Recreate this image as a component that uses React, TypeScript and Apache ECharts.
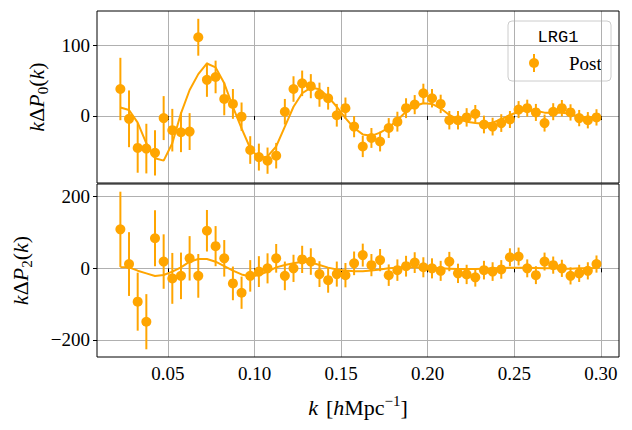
import React, { useEffect, useRef } from "react";
import * as echarts from "echarts";

const kValues = [
  0.0225, 0.0275, 0.0325, 0.0375, 0.0425, 0.0475, 0.0525, 0.0575, 0.0625, 0.0675,
  0.0725, 0.0775, 0.0825, 0.0875, 0.0925, 0.0975, 0.1025, 0.1075, 0.1125, 0.1175,
  0.1225, 0.1275, 0.1325, 0.1375, 0.1425, 0.1475, 0.1525, 0.1575, 0.1625, 0.1675,
  0.1725, 0.1775, 0.1825, 0.1875, 0.1925, 0.1975, 0.2025, 0.2075, 0.2125, 0.2175,
  0.2225, 0.2275, 0.2325, 0.2375, 0.2425, 0.2475, 0.2525, 0.2575, 0.2625, 0.2675,
  0.2725, 0.2775, 0.2825, 0.2875, 0.2925, 0.2975,
];

const p0Data = [
  38, -4, -45, -46, -52, -3, -20, -23, -22, 111,
  51, 55, 24, 17, -1, -48, -58, -63, -56, 6,
  38, 46, 42, 30, 25, 1, 11, -15, -43, -31,
  -36, -17, -8, 11, 16, 32, 25, 17, -6, -6,
  -2, 3, -12, -15, -10, -5, 9, 11, 5, -10,
  6, 11, 5, -3, -6, -2,
];

const p0Err = [
  44, 40, 35, 35, 32, 31, 30, 28, 26, 26,
  24, 23, 23, 21, 20, 19.5, 19, 18.5, 18, 18,
  18, 18, 17, 17, 16, 16, 15, 15, 15, 14,
  14, 14, 14, 14, 13.5, 13.5, 13, 13, 13, 13,
  13, 12.5, 12.5, 12.5, 12.5, 12, 12, 12, 12, 12,
  12, 11.5, 11.5, 11.5, 11.5, 11.5,
];

const p0Model = [
  12, 8.5, -9.4, -38.5, -59.6, -63, -38.5, 3.8, 36.6, 59,
  74, 68.5, 46, 13, -17.4, -45.5, -59.6, -57, -43, -15,
  13, 32, 40, 37.6, 27, 13, -3, -17, -26, -28,
  -23.5, -16.4, -5.6, 6, 14, 18, 17, 10.8, 1.4, -4.7,
  -8, -10, -11, -9.4, -4.7, 1.4, 6, 8.5, 7.5, 4.7,
  4.7, 4.7, 3, -1, -2, -1,
];

const p2Data = [
  109, 12, -93, -149, 84, 19, -28, -21, 28, -21,
  105, 62, 28, -42, -68, -21, -9, 0, 28, -21,
  0, 25, 19, -16, -33, -16, -19, 14, 37, 9,
  23, -19, -5, 6, 16, 3, 0, -7, 19, -14,
  -17, -25, -5, -9, -3, 31, 33, 0, -19, 19,
  9, 0, -21, -14, -7, 12,
];

const p2Err = [
  105, 89, 81, 77, 78, 76, 71, 65, 62, 61,
  58, 56, 51, 47, 45, 44, 43, 42, 40, 40,
  38, 38, 37, 36, 35, 35, 34, 33, 32, 31,
  31, 30, 30, 29, 29, 28, 28, 28, 27, 27,
  27, 26, 26, 26, 26, 25, 25, 25, 25, 25,
  24, 24, 24, 24, 24, 24,
];

const p2Model = [
  2.8, 2.8, -6.5, -14, -21.5, -18.7, -9.3, 2.8, 18.6, 26,
  26, 18.6, 6.5, -6.5, -17, -23, -18.7, -9.3, 2.8, 9.3,
  14, 18.6, 16.7, 9.3, 2, -3, -6, -8, -8, -6,
  -3, 0, 2, 3, 3, 2, 1, 0, -1, -2,
  -2, -2, -1, 0, 1, 2, 2, 2, 1, 0,
  0, -1, -1, 0, 0, 1,
];

const xTicks = [0.05, 0.1, 0.15, 0.2, 0.25, 0.3];
const y0Ticks = [0, 100];
const y2Ticks = [-200, 0, 200];

const ORANGE = "#FFA500";
const SERIF = "Liberation Serif";
const GRID_COLOR = "#b0b0b0";

const fmtNum = (v: number) => (v < 0 ? "\u2212" + Math.abs(v) : String(v));

const mathRich = (size: number) => ({
  i: { fontFamily: SERIF, fontStyle: "italic", fontSize: size, lineHeight: 28, color: "#000" },
  n: { fontFamily: SERIF, fontSize: size, lineHeight: 28, color: "#000" },
  s: { fontFamily: SERIF, fontSize: Math.round(size * 0.7), lineHeight: 14, verticalAlign: "bottom", color: "#000" },
  sup: { fontFamily: SERIF, fontSize: Math.round(size * 0.7), lineHeight: 14, verticalAlign: "top", color: "#000" },
  sp: { fontFamily: SERIF, fontSize: size, lineHeight: 28, width: 8 },
});

function errorBarSeries(xi: number, data: number[], err: number[]) {
  return {
    type: "custom",
    xAxisIndex: xi,
    yAxisIndex: xi,
    z: 3,
    data: kValues.map((k, i) => [k, data[i] - err[i], data[i] + err[i]]),
    encode: { x: 0, y: [1, 2] },
    renderItem: (_p: any, api: any) => {
      const lo = api.coord([api.value(0), api.value(1)]);
      const hi = api.coord([api.value(0), api.value(2)]);
      return {
        type: "line",
        shape: { x1: lo[0], y1: lo[1], x2: hi[0], y2: hi[1] },
        style: { stroke: ORANGE, lineWidth: 2 },
      };
    },
  };
}

function xAxisDef(gi: number, showLabels: boolean) {
  return {
    type: "value",
    gridIndex: gi,
    min: 0.009,
    max: 0.3105,
    axisLine: { show: false },
    axisTick: { show: true, customValues: xTicks, length: 4, lineStyle: { color: "#000", width: 1 } },
    axisLabel: {
      show: showLabels,
      customValues: xTicks,
      formatter: (v: number) => v.toFixed(2),
      fontFamily: SERIF,
      fontSize: 19,
      color: "#000",
      margin: 7,
    },
    splitLine: { show: true, lineStyle: { color: GRID_COLOR, width: 1 } },
    ...(showLabels
      ? {
          name: "{i|k}{sp|\u00a0}{n|[}{i|h}{n|Mpc}{sup|\u22121}{n|]}",
          nameLocation: "middle",
          nameGap: 36,
          nameTextStyle: { rich: mathRich(22) },
        }
      : {}),
  };
}

function yAxisDef(gi: number, min: number, max: number, ticks: number[], sub: string, gap: number) {
  return {
    type: "value",
    gridIndex: gi,
    min,
    max,
    axisLine: { show: false },
    axisTick: { show: true, customValues: ticks, length: 4, lineStyle: { color: "#000", width: 1 } },
    axisLabel: {
      customValues: ticks,
      formatter: fmtNum,
      fontFamily: SERIF,
      fontSize: 19,
      color: "#000",
      margin: 7,
    },
    splitLine: { show: true, lineStyle: { color: GRID_COLOR, width: 1 } },
    name: "{i|k}{n|\u0394}{i|P}{s|" + sub + "}{n|(}{i|k}{n|)}",
    nameLocation: "middle",
    nameRotate: 90,
    nameGap: gap,
    nameTextStyle: { rich: mathRich(22) },
  };
}

export default function App() {
  const ref = useRef<HTMLDivElement>(null);

  useEffect(() => {
    document.body.style.margin = "0";
    if (!ref.current) return;
    const chart = echarts.init(ref.current, undefined, { renderer: "svg" });

    const option: any = {
      animation: false,
      backgroundColor: "#fff",
      grid: [
        { left: 97, top: 11, width: 522, height: 172 },
        { left: 97, top: 184, width: 522, height: 173 },
      ],
      xAxis: [xAxisDef(0, false), xAxisDef(1, true)],
      yAxis: [
        yAxisDef(0, -94.5, 148, y0Ticks, "0", 42),
        yAxisDef(1, -247.5, 235.5, y2Ticks, "2", 63),
      ],
      series: [
        {
          type: "line",
          xAxisIndex: 0,
          yAxisIndex: 0,
          z: 2,
          showSymbol: false,
          data: kValues.map((k, i) => [k, p0Model[i]]),
          lineStyle: { color: ORANGE, width: 2 },
        },
        errorBarSeries(0, p0Data, p0Err),
        {
          type: "scatter",
          xAxisIndex: 0,
          yAxisIndex: 0,
          z: 4,
          symbolSize: 10,
          data: kValues.map((k, i) => [k, p0Data[i]]),
          itemStyle: { color: ORANGE, opacity: 1 },
        },
        {
          type: "line",
          xAxisIndex: 1,
          yAxisIndex: 1,
          z: 2,
          showSymbol: false,
          data: kValues.map((k, i) => [k, p2Model[i]]),
          lineStyle: { color: ORANGE, width: 2 },
        },
        errorBarSeries(1, p2Data, p2Err),
        {
          type: "scatter",
          xAxisIndex: 1,
          yAxisIndex: 1,
          z: 4,
          symbolSize: 10,
          data: kValues.map((k, i) => [k, p2Data[i]]),
          itemStyle: { color: ORANGE, opacity: 1 },
        },
      ],
      graphic: [
        {
          type: "rect",
          z: 100,
          silent: true,
          shape: { x: 97, y: 11, width: 522, height: 172 },
          style: { fill: "none", stroke: "#000", lineWidth: 1 },
        },
        {
          type: "rect",
          z: 100,
          silent: true,
          shape: { x: 97, y: 184, width: 522, height: 173 },
          style: { fill: "none", stroke: "#000", lineWidth: 1 },
        },
        {
          type: "group",
          z: 110,
          children: [
            {
              type: "rect",
              shape: { x: 508, y: 21, width: 103, height: 60, r: 4 },
              style: { fill: "rgba(255,255,255,0.8)", stroke: "#cccccc", lineWidth: 1 },
            },
            {
              type: "text",
              x: 558,
              y: 37,
              style: {
                text: "LRG1",
                fontFamily: "Liberation Mono",
                fontSize: 17,
                fill: "#000",
                align: "center",
                verticalAlign: "middle",
              },
            },
            {
              type: "line",
              shape: { x1: 534, y1: 54, x2: 534, y2: 72 },
              style: { stroke: ORANGE, lineWidth: 2 },
            },
            {
              type: "circle",
              shape: { cx: 534, cy: 63, r: 5 },
              style: { fill: ORANGE },
            },
            {
              type: "text",
              x: 569,
              y: 63,
              style: {
                text: "Post",
                fontFamily: SERIF,
                fontSize: 19,
                fill: "#000",
                align: "left",
                verticalAlign: "middle",
              },
            },
          ],
        },
      ],
    };

    chart.setOption(option);
    return () => chart.dispose();
  }, []);

  return <div ref={ref} style={{ width: 632, height: 430 }} />;
}
